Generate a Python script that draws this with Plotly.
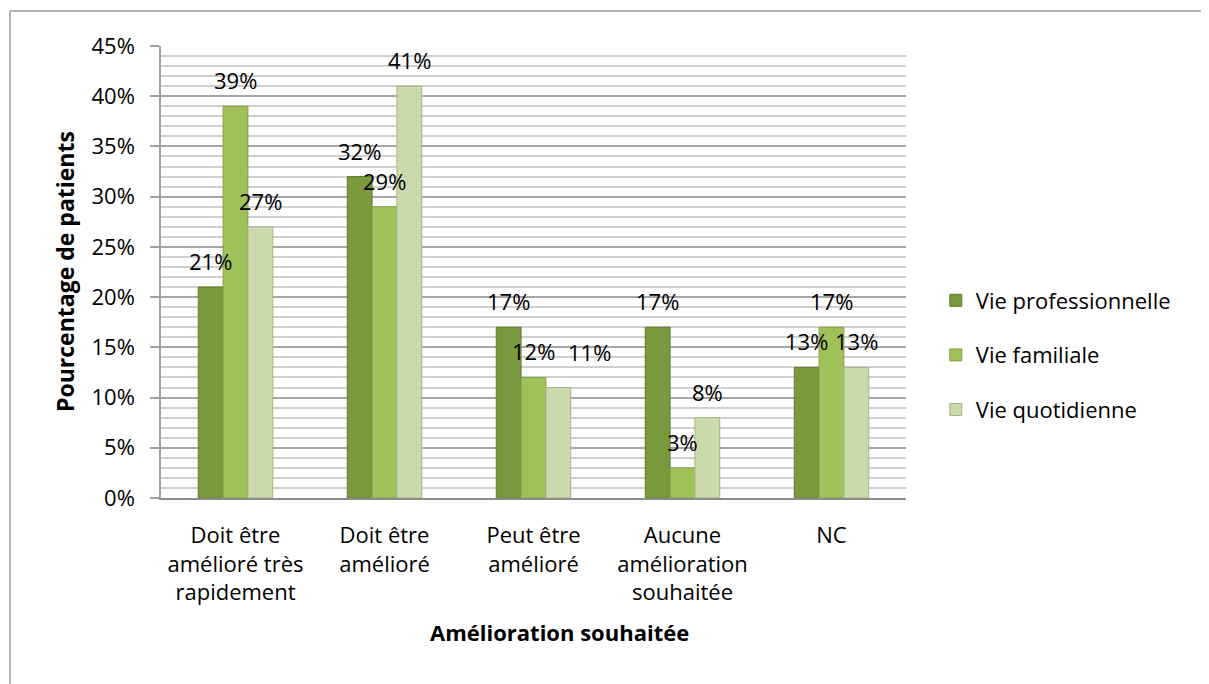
import plotly.graph_objects as go

categories = ["Doit être amélioré très rapidement", "Doit être amélioré",
              "Peut être amélioré", "Aucune amélioration souhaitée", "NC"]
tick_labels = ["Doit être<br>amélioré très<br>rapidement", "Doit être<br>amélioré",
               "Peut être<br>amélioré", "Aucune<br>amélioration<br>souhaitée", "NC"]
series_names = ["Vie professionnelle", "Vie familiale", "Vie quotidienne"]
vie_professionnelle = [21, 32, 17, 17, 13]
vie_familiale = [39, 29, 12, 3, 17]
vie_quotidienne = [27, 41, 11, 8, 13]
series_values = [vie_professionnelle, vie_familiale, vie_quotidienne]
y_ticks = [0, 5, 10, 15, 20, 25, 30, 35, 40, 45]
y_tick_labels = ["0%", "5%", "10%", "15%", "20%", "25%", "30%", "35%", "40%", "45%"]

colors = ["#7A993D", "#A0C059", "#CADAAC"]
line_colors = ["#627D2F", "#84A246", "#A5B589"]
FONT = "Open Sans"
FS = 22

# page geometry (px); the page body adds an 8px offset
OFF = 8
W, H = 1209 - OFF, 684 - OFF
L, R, T, B = 161, 906, 46, 498          # plot area in page px
pw, ph = R - L, B - T

# small nudges (px) for labels Excel moved to avoid overlap: (series, category) -> (dx, dy)
label_nudge = {(2, 2): (31, 10)}

fig = go.Figure()
for i, (name, vals) in enumerate(zip(series_names, series_values)):
    fig.add_trace(go.Bar(
        x=categories, y=vals, name=name,
        marker=dict(color=colors[i], line=dict(color=line_colors[i], width=1)),
        legendgroup=name,
    ))

# data labels
bar_px = pw / len(categories) * 0.5 / 3
for i, vals in enumerate(series_values):
    for j, (c, v) in enumerate(zip(categories, vals)):
        dx, dy = label_nudge.get((i, j), (0, 0))
        fig.add_annotation(x=c, y=v, xref="x", yref="y", text=f"{v}%",
                           showarrow=False, xshift=(i - 1) * bar_px + dx, yshift=26 + dy,
                           font=dict(family=FONT, size=FS, color="#000000"))

# axis titles
fig.add_annotation(xref="paper", yref="paper", x=(65 - L) / pw, y=(B - 271) / ph,
                   text="<b>Pourcentage de patients</b>", textangle=-90, showarrow=False,
                   xanchor="center", yanchor="middle",
                   font=dict(family=FONT, size=23, color="#000000"))
fig.add_annotation(xref="paper", yref="paper", x=(559 - L) / pw, y=(B - 632) / ph,
                   text="<b>Amélioration souhaitée</b>", showarrow=False,
                   xanchor="center", yanchor="middle",
                   font=dict(family=FONT, size=22, color="#000000"))

# outer chart frame (left and top edges visible)
fx0 = (10 - L) / pw
fy1 = (B - 11) / ph
fig.add_shape(type="line", xref="paper", yref="paper", x0=fx0, x1=fx0, y0=-1, y1=fy1,
              line=dict(color="#9E9E9E", width=1.5))
fig.add_shape(type="line", xref="paper", yref="paper", x0=fx0, x1=2, y0=fy1, y1=fy1,
              line=dict(color="#9E9E9E", width=1.5))

fig.update_layout(
    width=W, height=H,
    margin=dict(l=L - OFF, r=W - (R - OFF), t=T - OFF, b=H - (B - OFF), pad=0),
    paper_bgcolor="white", plot_bgcolor="white",
    barmode="group", bargap=0.5, bargroupgap=0,
    font=dict(family=FONT, size=FS, color="#000000"),
    legend=dict(x=1.04, xanchor="left", y=(B - 355) / ph, yanchor="middle",
                font=dict(family=FONT, size=FS), tracegroupgap=23,
                bgcolor="rgba(0,0,0,0)"),
    showlegend=True,
)
fig.update_xaxes(
    tickvals=categories, ticktext=tick_labels, showline=True, linecolor="#8C8C8C",
    linewidth=1.5, ticks="", showgrid=False, ticklabelstandoff=17,
    tickfont=dict(family=FONT, size=FS), fixedrange=True,
)
fig.update_yaxes(
    range=[0, 45], tickvals=y_ticks, ticktext=y_tick_labels, showline=True,
    linecolor="#A0A0A0", linewidth=1.5, ticks="outside", ticklen=9,
    tickcolor="#A0A0A0", tickwidth=1.5,
    showgrid=True, gridcolor="#A6A6A6", gridwidth=1.5, zeroline=False,
    minor=dict(dtick=1, showgrid=True, gridcolor="#CFCFCF", gridwidth=1.5),
    ticklabelstandoff=11, tickfont=dict(family=FONT, size=FS), fixedrange=True,
)

fig.write_html("out.html")
